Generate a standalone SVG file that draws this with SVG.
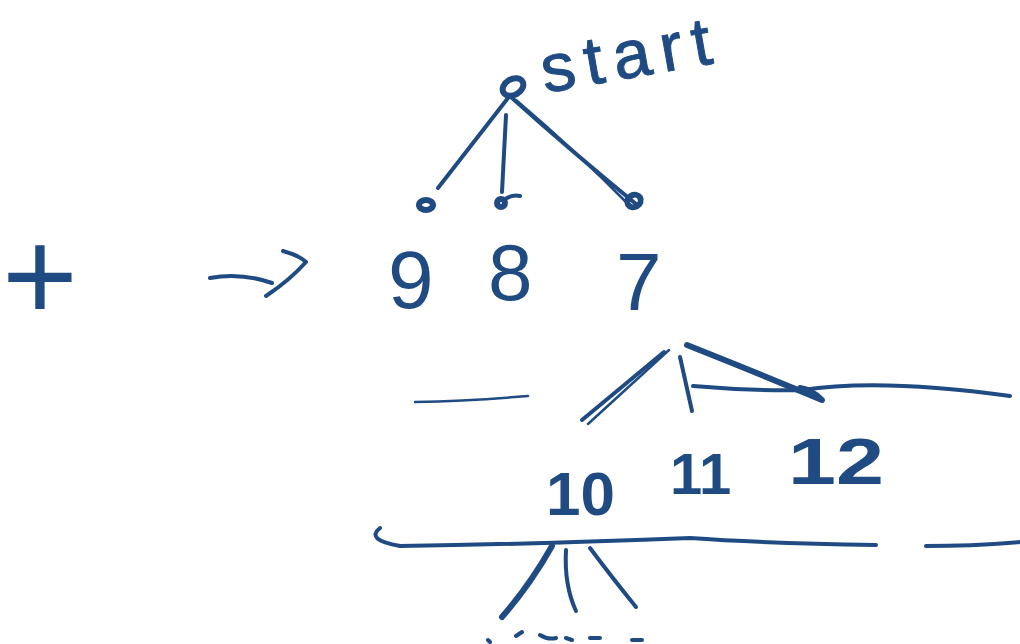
<svg xmlns="http://www.w3.org/2000/svg" width="1020" height="644" viewBox="0 0 1020 644">
<style>
.s{fill:none;stroke:#1f4b82;stroke-width:4;stroke-linecap:round;stroke-linejoin:round}
.t{stroke:#1f4b82;stroke-width:6}
.w{stroke-width:2.5}
.tx{fill:#1f4b82;font-family:"Liberation Sans","DejaVu Sans",sans-serif}
</style>
<rect width="1020" height="644" fill="#ffffff"/>
<g id="start">
<ellipse class="s t" cx="513" cy="87" rx="11" ry="8" transform="rotate(-30 513 87)"/>
<text class="tx" x="545" y="93" font-size="68" textLength="172" lengthAdjust="spacing" stroke="#1f4b82" stroke-width="1" transform="rotate(-10 545 93)">start</text>
</g>
<g id="leaf9"><ellipse class="s t" cx="426" cy="205" rx="7" ry="5"/></g>
<g id="leaf8"><circle class="s t" cx="501" cy="203" r="4"/><path class="s" d="M504 200 Q512 194 520 196"/></g>
<g id="leaf7"><ellipse class="s t" cx="634" cy="201" rx="7" ry="6" transform="rotate(-30 634 201)"/></g>
<g id="label-t"><text class="tx" x="2" y="320" font-size="130">+</text></g>
<g id="n9"><text class="tx" x="388" y="308" font-size="82">9</text></g>
<g id="n8"><text class="tx" x="488" y="300" font-size="80">8</text></g>
<g id="n7"><text class="tx" x="616" y="310" font-size="82">7</text></g>
<g id="n10"><text class="tx" x="546" y="515" font-size="62" font-weight="bold">10</text></g>
<g id="n11"><text class="tx" x="670" y="494" font-size="58" font-weight="bold">11</text></g>
<g id="n12"><text class="tx" x="788" y="484" font-size="64" font-weight="bold" textLength="96" lengthAdjust="spacingAndGlyphs">12</text></g>
<g id="connectors">
<path class="s" d="M508 98 L438 188"/>
<path class="s" d="M506 115 L502 192"/>
<path class="s" d="M512 98 Q570 150 636 204"/>
<path class="s w" d="M516 100 Q575 150 630 206"/>
<path class="s" d="M210 278 Q240 272 272 283"/>
<path class="s" d="M283 251 Q300 256 306 262 Q290 280 266 296"/>
<path class="s w" d="M415 402 Q470 401 528 396"/>
<path class="s" d="M664 352 L582 420"/>
<path class="s w" d="M669 350 L588 424"/>
<path class="s" d="M680 357 L692 411"/>
<path class="s t" d="M687 345 Q760 374 822 400 Q812 390 800 388"/>
<path class="s" d="M693 386 Q750 391 802 390 Q880 378 1010 396"/>
<path class="s" d="M380 528 Q365 540 400 546 Q540 544 690 538 Q760 543 876 545"/>
<path class="s" d="M926 546 Q970 546 1020 542"/>
<path class="s t" d="M552 546 Q530 585 502 617"/>
<path class="s" d="M566 550 Q564 585 576 611"/>
<path class="s" d="M590 548 Q614 580 636 607"/>
<path class="s" d="M488 640 L490 642 M516 636 L522 632 M540 635 Q548 640 556 638 M566 638 L572 640 M590 638 L600 638 M632 640 L642 640"/>
</g>
</svg>
